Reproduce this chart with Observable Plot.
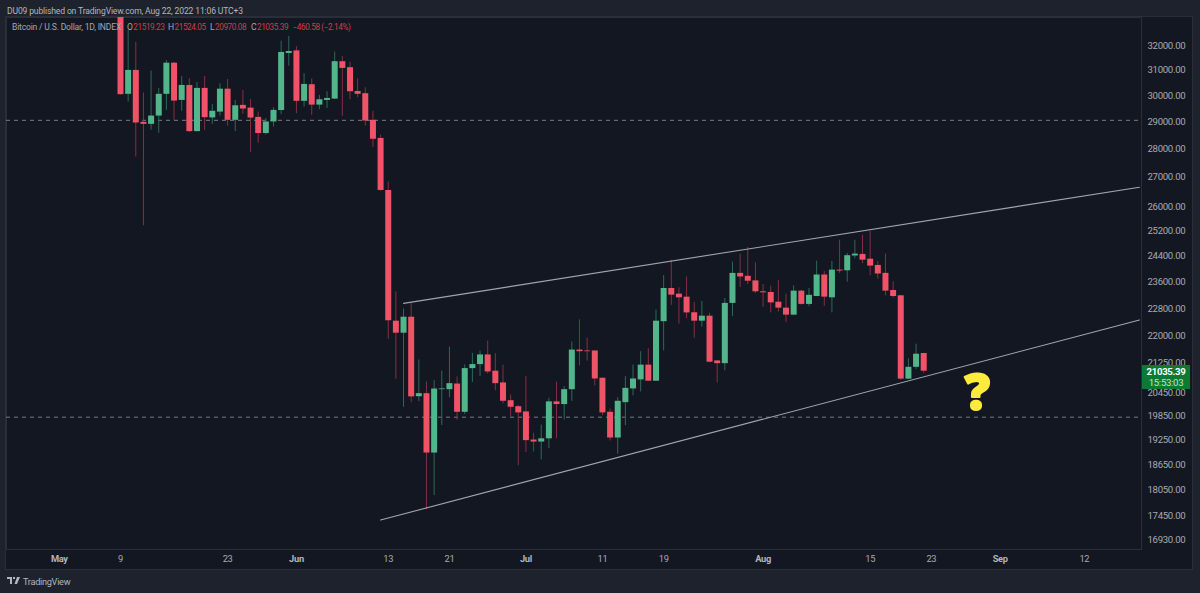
<!DOCTYPE html>
<html>
<head>
<meta charset="utf-8">
<script src="https://cdn.jsdelivr.net/npm/d3@7"></script>
<script src="https://cdn.jsdelivr.net/npm/@observablehq/plot@0.6"></script>
<style>
html,body{margin:0;padding:0;width:1200px;height:593px;overflow:hidden;background:#1e222d;font-family:Roboto,sans-serif;color:#b2b5be;}
#head{position:absolute;left:7px;top:4.5px;font-size:8.6px;letter-spacing:-.16px;line-height:12px;white-space:nowrap;}
#panel{position:absolute;left:6px;top:17px;width:1186px;height:552px;background:#131722;outline:1px solid #2a2e39;}
#panel svg{display:block;background:transparent;}
#panel svg text{letter-spacing:-.3px;}
#legend{position:absolute;left:12px;top:21px;font-size:8.6px;letter-spacing:-.2px;line-height:12px;white-space:pre;color:#a4a7b0;}
#legend span{position:absolute;top:0;}
#legend b{font-weight:400;color:#c93f50;font-size:8.2px;letter-spacing:-.38px;padding-left:.5px;}
#last{position:absolute;left:1142px;top:365px;width:48px;height:24px;background:#0d7a31;text-align:center;font-size:9.6px;letter-spacing:-.3px;line-height:11px;color:#fff;}
#last div:first-child{font-weight:700;padding-top:1px;}
#last div:last-child{color:#c4e2cc;}
#foot{position:absolute;left:7px;top:575px;height:12px;display:flex;align-items:center;gap:3px;font-size:9.2px;letter-spacing:-.3px;color:#b2b5be;}
</style>
</head>
<body>
<div id="head">DU09 published on TradingView.com, Aug 22, 2022 11:06 UTC+3</div>
<div id="panel"></div>
<div id="legend"><span style="left:0">Bitcoin / U.S. Dollar, 1D, INDEX</span><span style="left:115px">O<b>21519.23</b></span><span style="left:156px">H<b>21524.05</b></span><span style="left:198px">L<b>20970.08</b></span><span style="left:239px">C<b>21035.39</b></span><span style="left:280px"><b>−460.58 (−2.14%)</b></span></div>
<div id="last"><div>21035.39</div><div>15:53:03</div></div>
<div id="foot"><svg width="13" height="8" viewBox="0 0 13 8"><path d="M0 0h5v7H3V2H0z M6 0h2v2H6z M10 0h3l-3 7H7.5z" fill="#b2b5be"/></svg><span>TradingView</span></div>
<script>
const firstDay = "2022-05-09";
const opens = [34038,30050,30990,28985,28910,29220,30050,31280,29815,30395,
28640,30280,29150,29370,30250,29060,29625,29520,29170,28570,
29000,29430,31675,31780,29780,30425,29635,29815,29865,31340,
31100,30160,30075,29060,28390,26550,22435,22090,22550,20355,
20435,18930,20540,20540,20690,19950,21105,21215,21480,21035,
20720,20250,20095,19960,19250,19200,19280,20220,20150,20540,
21615,21590,21590,20845,19950,19300,20200,20560,20800,21200,
20765,22420,23400,23230,23140,22680,22435,22580,21315,21240,
22955,23860,23770,23630,23300,23280,22990,22815,22610,23320,
22925,23160,23810,23120,23960,23940,24400,24450,24300,24105,
23860,23340,23180,20820,21140,21519.23];
const closes = [30037,30990,28960,28910,29220,30050,31280,29790,30395,28640,
30280,29160,29400,30250,29060,29610,29485,29145,28570,29000,
29435,31715,31755,29780,30435,29635,29840,29890,31340,31070,
30150,30050,29035,28360,26550,22445,22090,22550,20350,20435,
18930,20557,20560,20700,19950,21105,21215,21480,21015,20700,
20235,20080,19935,19235,19200,19280,20220,20150,20540,21615,
21570,21570,20825,19935,19300,20235,20575,20825,21200,20765,
22435,23400,23200,23120,22675,22435,22580,21280,21240,22955,
23860,23750,23620,23300,23270,22970,22815,22610,23320,22925,
23195,23810,23140,23960,23930,24410,24460,24270,24085,23840,
23320,23160,20820,21140,21500,21035.39];
const highs = [34243,32625,32140,30100,30960,30280,31390,31310,30750,30660,
30510,30750,29660,30460,30630,29815,30200,29850,29370,29130,
29540,32180,32380,31950,30860,30655,30010,30150,31730,31550,
31310,30655,30305,29400,28510,26840,23300,22790,22955,21340,
20745,20780,21040,21700,20880,21205,21525,21585,21865,21515,
21200,20400,20130,20890,19420,19625,20315,20740,20620,21840,
22475,21950,21590,20855,20035,20330,20890,21200,21570,21650,
22760,23795,24270,23420,23750,22985,23010,22665,21330,23100,
24210,24460,24670,24185,23520,23470,23640,23230,23480,23340,
23400,24240,23920,24230,24900,24480,24900,25060,25190,24230,
24460,23600,23200,21370,21780,21524.05];
const lows = [30020,29750,27720,25370,28690,28580,29435,29060,29400,28605,
28630,28690,28910,29220,28840,28640,29290,27880,28220,28510,
28810,29280,31160,29310,29560,29250,29460,29510,29860,29210,
29840,29920,28840,28060,26520,21920,20820,20080,20200,20225,
17595,17920,19610,20330,19750,19890,20730,20890,20960,20510,
20165,19820,18620,18940,18955,18765,19035,19280,19755,20235,
21180,21310,20640,19865,19225,18900,19610,20375,20480,20755,
20760,21595,22895,22350,22505,21950,22265,21265,20720,21045,
22565,23430,23520,23250,22845,22675,22700,22400,22595,22905,
22855,23160,22870,22675,23860,23590,24315,24160,23785,23680,
23180,23110,20790,20820,21075,20970.08];
const priceTicks = [32000,31000,30000,29000,28000,27000,26000,25200,24400,23600,22800,22000,21250,20450,19850,19250,18650,18050,17450,16930];
const monthTicks = ["2022-05-01","2022-06-01","2022-07-01","2022-08-01","2022-09-01"];
const dayTicks = ["2022-05-09","2022-05-23","2022-06-13","2022-06-21","2022-07-11","2022-07-19","2022-08-15","2022-08-23","2022-09-12"];
const dashedLevels = [29060,19825];
const upperChannelDates = ["2022-06-15","2022-09-19T04:48"];
const upperChannelPrices = [22955,26662];
const lowerChannelDates = ["2022-06-12","2022-09-19T04:48"];
const lowerChannelPrices = [17365,22470];
const noteDate = "2022-08-29", notePrice = 20420;

const utc = s => new Date(s.length === 10 ? s + "T00:00Z" : s + "Z");
const start = utc(firstDay);
const rows = opens.map((o, i) => ({date: d3.utcDay.offset(start, i), open: o, close: closes[i], high: highs[i], low: lows[i]}));
const up = d => d.close >= d.open;
const chan = (ds, ps) => ds.map((d, i) => ({date: utc(d), price: ps[i]}));
const font = "Roboto, sans-serif";

const chart = Plot.plot({
  width: 1186, height: 552,
  marginLeft: 0, marginRight: 51, marginTop: 0, marginBottom: 20,
  style: {background: "transparent", fontFamily: font},
  x: {type: "utc", domain: [utc("2022-04-24T05:30"), utc("2022-09-19T14:24")], range: [1, 1136]},
  y: {type: "log", domain: [16718, 33176], range: [532, 0]},
  color: {type: "identity"},
  marks: [
    Plot.frame({stroke: "#2a2e39"}),
    Plot.ruleY(dashedLevels, {stroke: "#787b86", strokeWidth: 1, strokeDasharray: "4,4"}),
    Plot.ruleX(rows, {x: "date", y1: "low", y2: "high", stroke: d => up(d) ? "#2a6b55" : "#84303f", strokeWidth: 1, clip: true}),
    Plot.ruleX(rows, {x: "date", y1: "open", y2: "close", stroke: d => up(d) ? "#51b78b" : "#f05267", strokeWidth: 6, clip: true}),
    Plot.line(chan(upperChannelDates, upperChannelPrices), {x: "date", y: "price", stroke: "#a2a5ae", strokeWidth: 1.1}),
    Plot.line(chan(lowerChannelDates, lowerChannelPrices), {x: "date", y: "price", stroke: "#a2a5ae", strokeWidth: 1.1}),
    Plot.text(["?"], {x: () => utc(noteDate), y: () => notePrice, fill: "#ffeb3b", stroke: "#ffeb3b", strokeWidth: 2, fontSize: 50, fontWeight: 900, fontFamily: "'Open Sans', sans-serif"}),
    Plot.axisY(priceTicks, {anchor: "right", tickSize: 0, tickPadding: 6, tickFormat: d => d.toFixed(2), fill: "#a8abb4", fontSize: 9.6, label: null}),
    Plot.axisX(dayTicks.map(utc), {tickSize: 0, tickPadding: 6, tickFormat: d3.utcFormat("%-d"), fill: "#a8abb4", fontSize: 9.3, label: null}),
    Plot.axisX(monthTicks.map(utc), {tickSize: 0, tickPadding: 6, tickFormat: d3.utcFormat("%b"), fill: "#b2b5be", fontSize: 9.3, fontWeight: 700, label: null})
  ]
});
document.getElementById("panel").append(chart);
</script>
</body>
</html>
